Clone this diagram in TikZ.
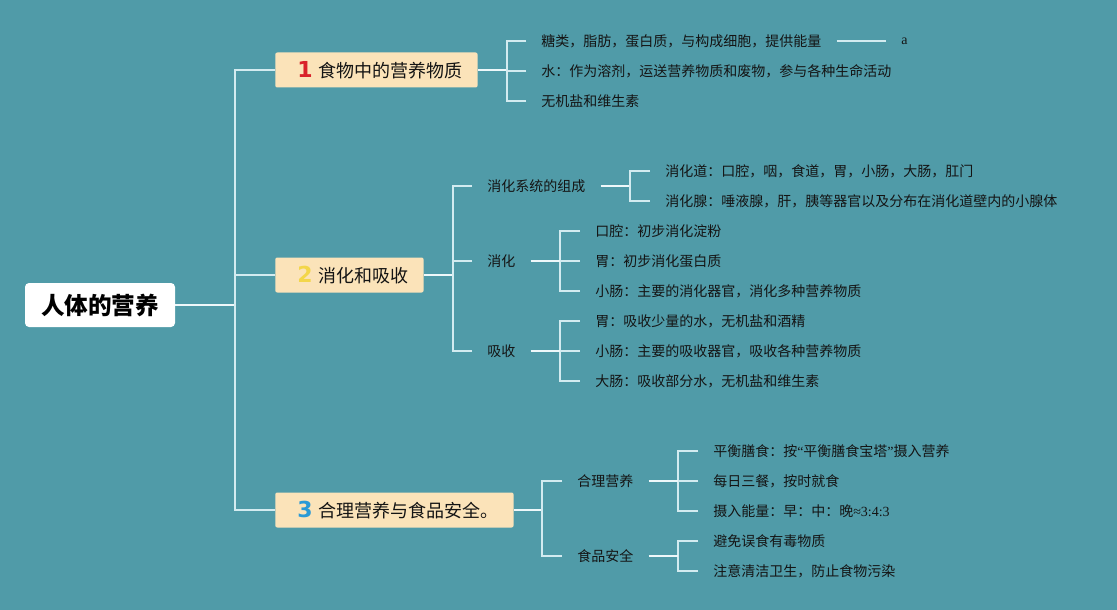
\documentclass[tikz,border=0pt]{standalone}
\usepackage{fontspec}
\setmainfont{Noto Sans CJK SC}
\newfontfamily\serifa{Liberation Serif}
\newfontfamily\digitfont{DejaVu Sans}
\definecolor{bgc}{HTML}{509BA8}
\definecolor{boxc}{HTML}{FBE3B9}
\definecolor{linec}{HTML}{D3EBF0}
\definecolor{linew}{HTML}{EEF8FA}
\definecolor{txt}{HTML}{141414}
\definecolor{dred}{HTML}{D9222A}
\definecolor{dyel}{HTML}{F3D64A}
\definecolor{dblu}{HTML}{2B9AD6}
\tikzset{
  leaf/.style={anchor=west, inner xsep=11.25pt, inner ysep=2pt, text=txt, font=\fontsize{10.5}{12}\selectfont},
  boxn/.style={anchor=west, fill=boxc, rounded corners=1.5pt, minimum height=26.25pt, inner xsep=11.25pt, inner ysep=0pt, text=txt, font=\fontsize{13.5}{15}\selectfont},
  rootn/.style={fill=white, rounded corners=3pt, minimum width=112.5pt, minimum height=33pt, inner sep=0pt, text=black, font=\fontsize{17.7}{20}\selectfont\bfseries},
  ln/.style={draw=linec, line width=1.3pt},
  lnw/.style={draw=linew, line width=1.5pt}
}
\begin{document}
\begin{tikzpicture}[x=0.75pt,y=-0.75pt]
\useasboundingbox (0,0) rectangle (1117,610);
\fill[bgc] (0,0) rectangle (1117,610);

% root
\node[rootn] (root) at (100,305) {人体的营养};
\coordinate (t0) at (235,305);

% main boxes
\node[boxn] (b1) at (275,70) {\hspace{5.25pt}{\digitfont\bfseries\fontsize{16.5}{18}\selectfont\color{dred}1}\hspace{4.5pt}食物中的营养物质\hspace{-5.5pt}};
\node[boxn] (b2) at (275,275) {\hspace{5.25pt}{\digitfont\bfseries\fontsize{16.5}{18}\selectfont\color{dyel}2}\hspace{4.5pt}消化和吸收\hspace{-5.5pt}};
\node[boxn] (b3) at (275,510) {\hspace{5.25pt}{\digitfont\bfseries\fontsize{16.5}{18}\selectfont\color{dblu}3}\hspace{4.5pt}合理营养与食品安全。\hspace{-5.5pt}};

\draw[lnw] (root.east) -- (t0);
\draw[ln] (b1.west) -| (t0);
\draw[ln] (b2.west) -| (t0);
\draw[ln] (b3.west) -| (t0);

% group 1
\coordinate (j1) at (507,70);
\node[leaf] (l11) at (526,41) {糖类，脂肪，蛋白质，与构成细胞，提供能量};
\node[leaf] (l12) at (526,71) {水：作为溶剂，运送营养物质和废物，参与各种生命活动};
\node[leaf] (l13) at (526,101) {无机盐和维生素};
\node[leaf, font=\serifa\fontsize{10.5}{12}\selectfont] (la) at (886,41) {a};
\draw[lnw] (b1.east) -- (j1);
\draw[ln] (l11.west) -| (j1);
\draw[ln] (l12.west) -| (j1);
\draw[ln] (l13.west) -| (j1);
\draw[ln] (l11.east) -- (la.west);

% group 2
\coordinate (j2) at (453,275);
\node[leaf] (m1) at (472,186) {消化系统的组成};
\node[leaf] (m2) at (472,261) {消化};
\node[leaf] (m3) at (472,351) {吸收};
\draw[lnw] (b2.east) -- (j2);
\draw[ln] (m1.west) -| (j2);
\draw[ln] (m2.west) -| (j2);
\draw[ln] (m3.west) -| (j2);

\coordinate (k1) at (630,186);
\node[leaf] (n11) at (650,171) {消化道：口腔，咽，食道，胃，小肠，大肠，肛门};
\node[leaf] (n12) at (650,201) {消化腺：唾液腺，肝，胰等器官以及分布在消化道壁内的小腺体};
\draw[lnw] (m1.east) -- (k1);
\draw[ln] (n11.west) -| (k1);
\draw[ln] (n12.west) -| (k1);

\coordinate (k2) at (560,261);
\node[leaf] (n21) at (580,231) {口腔：初步消化淀粉};
\node[leaf] (n22) at (580,261) {胃：初步消化蛋白质};
\node[leaf] (n23) at (580,291) {小肠：主要的消化器官，消化多种营养物质};
\draw[ln] (n21.west) -| (k2);
\draw[ln] (n22.west) -- (k2);
\draw[ln] (n23.west) -| (k2);
\draw[lnw] (m2.east) -- (k2);

\coordinate (k3) at (560,351);
\node[leaf] (n31) at (580,321) {胃：吸收少量的水，无机盐和酒精};
\node[leaf] (n32) at (580,351) {小肠：主要的吸收器官，吸收各种营养物质};
\node[leaf] (n33) at (580,381) {大肠：吸收部分水，无机盐和维生素};
\draw[ln] (n31.west) -| (k3);
\draw[ln] (n32.west) -- (k3);
\draw[ln] (n33.west) -| (k3);
\draw[lnw] (m3.east) -- (k3);

% group 3
\coordinate (j3) at (542,510);
\node[leaf] (p1) at (562,481) {合理营养};
\node[leaf] (p2) at (562,556) {食品安全};
\draw[lnw] (b3.east) -- (j3);
\draw[ln] (p1.west) -| (j3);
\draw[ln] (p2.west) -| (j3);

\coordinate (q1) at (678,481);
\node[leaf] (r11) at (698,451) {平衡膳食：按{\serifa “}平衡膳食宝塔{\serifa ”}摄入营养};
\node[leaf] (r12) at (698,481) {每日三餐，按时就食};
\node[leaf] (r13) at (698,511) {摄入能量：早：中：晚{\serifa ≈3:4:3}};
\draw[ln] (r11.west) -| (q1);
\draw[ln] (r12.west) -- (q1);
\draw[ln] (r13.west) -| (q1);
\draw[lnw] (p1.east) -- (q1);

\coordinate (q2) at (678,556);
\node[leaf] (r21) at (698,541) {避免误食有毒物质};
\node[leaf] (r22) at (698,571) {注意清洁卫生，防止食物污染};
\draw[ln] (r21.west) -| (q2);
\draw[ln] (r22.west) -| (q2);
\draw[lnw] (p2.east) -- (q2);
\end{tikzpicture}
\end{document}
